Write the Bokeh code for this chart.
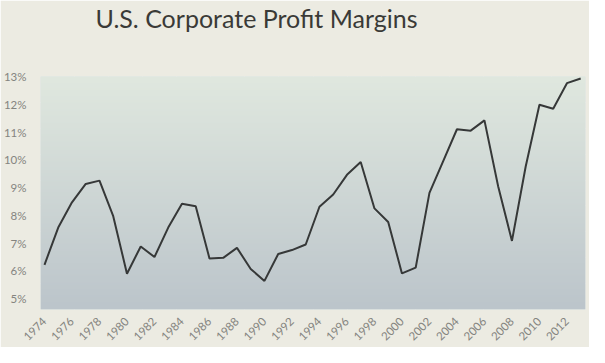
import math
import numpy as np
from bokeh.plotting import figure
from bokeh.models import Range1d, FixedTicker, Title
from bokeh.embed import file_html
from bokeh.resources import INLINE

# ---- data ----
years = list(range(1974, 2014))
margins = [6.22, 7.56, 8.47, 9.13, 9.25, 7.97, 5.90, 6.88, 6.50, 7.56,
           8.42, 8.33, 6.45, 6.47, 6.83, 6.07, 5.64, 6.61, 6.75, 6.95,
           8.31, 8.75, 9.46, 9.92, 8.25, 7.76, 5.91, 6.12, 8.81, 9.95,
           11.10, 11.05, 11.42, 9.04, 7.08, 9.76, 11.98, 11.84, 12.76, 12.93]
x_tick_years = list(range(1974, 2013, 2))
y_tick_values = [5, 6, 7, 8, 9, 10, 11, 12, 13]
y_tick_labels = ["5%", "6%", "7%", "8%", "9%", "10%", "11%", "12%", "13%"]
title_text = "U.S. Corporate Profit Margins"

X0, X1 = 1973.71, 2013.35
Y0, Y1 = 4.61, 13.0

p = figure(width=589, height=347, output_backend="svg", toolbar_location=None,
           x_range=Range1d(X0, X1), y_range=Range1d(Y0, Y1),
           min_border_left=36, min_border_right=4, min_border_top=0,
           min_border_bottom=34)

p.background_fill_color = "#d3dbd7"
p.border_fill_color = "#ecebe2"
p.outline_line_color = None

# gradient background of the plot area
N = 256
top = np.array([224, 232, 223], dtype=float)
bot = np.array([188, 197, 203], dtype=float)
t = np.linspace(0, 1, N)[:, None]
cols = bot * (1 - t) + top * t
img = np.zeros((N, 2), dtype=np.uint32)
view = img.view(dtype=np.uint8).reshape((N, 2, 4))
for c in range(2):
    view[:, c, 0] = cols[:, 0].astype(np.uint8)
    view[:, c, 1] = cols[:, 1].astype(np.uint8)
    view[:, c, 2] = cols[:, 2].astype(np.uint8)
    view[:, c, 3] = 255
p.image_rgba(image=[img], x=X0, y=Y0, dw=X1 - X0, dh=Y1 - Y0)

# decorative grid: 16 columns x 9 rows
p.xgrid.ticker = FixedTicker(ticks=[X0 + k * (X1 - X0) / 16 for k in range(1, 16)])
p.ygrid.ticker = FixedTicker(ticks=[Y0 + k * (Y1 - Y0) / 9 for k in range(1, 9)])
for g in (p.xgrid, p.ygrid):
    g.grid_line_color = "white"
    g.grid_line_alpha = 0.45
    g.grid_line_width = 1

p.line(years, margins, line_color="#363838", line_width=2)

# axes
p.xaxis.ticker = FixedTicker(ticks=x_tick_years)
p.xaxis.major_label_overrides = {y: str(y) for y in x_tick_years}
p.xaxis.major_label_orientation = math.pi / 4
p.yaxis.ticker = FixedTicker(ticks=y_tick_values)
p.yaxis.major_label_overrides = dict(zip(y_tick_values, y_tick_labels))
for ax in (p.xaxis, p.yaxis):
    ax.axis_line_color = None
    ax.major_tick_line_color = None
    ax.minor_tick_line_color = None
    ax.major_label_text_font = "Lato"
    ax.major_label_text_font_size = "11.5px"
    ax.major_label_text_color = "#84847f"
p.yaxis.major_label_standoff = 8
p.xaxis.major_label_standoff = 4

# main title (outermost panel)
p.title.text = title_text
p.title.text_font = "Lato"
p.title.text_font_style = "normal"
p.title.text_font_size = "25px"
p.title.text_color = "#3a3a37"
p.title.align = "left"
p.title.offset = 55
p.title.vertical_align = "top"
p.title.standoff = 4

# spacer panel between the title and the plot area
p.add_layout(Title(text=" ", text_font_size="10px", standoff=27), "above")

open("out.html", "w").write(file_html(p, INLINE))
